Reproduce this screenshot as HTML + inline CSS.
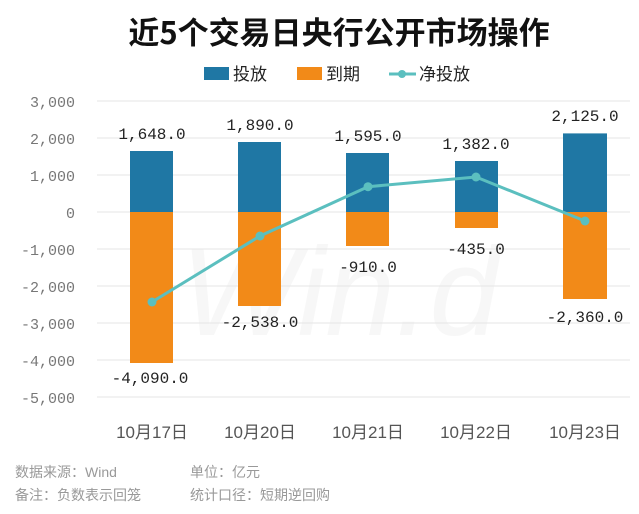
<!DOCTYPE html>
<html><head><meta charset="utf-8"><style>
html,body{margin:0;padding:0;background:#fff;}
svg{display:block;}
</style></head><body>
<svg width="639" height="514" viewBox="0 0 639 514" font-family="Liberation Sans, Noto Sans CJK SC, sans-serif">
<text x="339" y="44" font-size="31" font-weight="bold" text-anchor="middle" fill="#111" font-family="Noto Sans CJK SC, sans-serif">近5个交易日央行公开市场操作</text>
<text x="340" y="335" font-size="125" fill="#f7f7f7" text-anchor="middle" font-style="italic" font-family="Liberation Sans, sans-serif">Win.d</text>
<!-- legend -->
<rect x="204" y="67" width="25" height="13" fill="#1f77a4"/><text x="233" y="80" font-size="17" fill="#222" font-family="Noto Sans CJK SC, sans-serif">投放</text>
<rect x="297" y="67" width="25" height="13" fill="#f28a18"/><text x="326" y="80" font-size="17" fill="#222" font-family="Noto Sans CJK SC, sans-serif">到期</text>
<line x1="389" y1="74" x2="416" y2="74" stroke="#5bbfbf" stroke-width="3"/><circle cx="402" cy="74" r="4" fill="#5bbfbf"/><text x="419" y="80" font-size="17" fill="#222" font-family="Noto Sans CJK SC, sans-serif">净投放</text>
<!-- grid -->
<g stroke="#e6e6e6" stroke-width="1">
<line x1="97" y1="101" x2="630" y2="101"/><line x1="97" y1="138" x2="630" y2="138"/><line x1="97" y1="175" x2="630" y2="175"/><line x1="97" y1="212" x2="630" y2="212"/><line x1="97" y1="249" x2="630" y2="249"/><line x1="97" y1="286" x2="630" y2="286"/><line x1="97" y1="323" x2="630" y2="323"/><line x1="97" y1="360" x2="630" y2="360"/><line x1="97" y1="397" x2="630" y2="397"/>
</g>
<g font-family="Liberation Mono, monospace" font-size="15" fill="#777" text-anchor="end">
<text x="75" y="107">3,000</text><text x="75" y="144">2,000</text><text x="75" y="181">1,000</text><text x="75" y="218">0</text><text x="75" y="255">-1,000</text><text x="75" y="292">-2,000</text><text x="75" y="329">-3,000</text><text x="75" y="366">-4,000</text><text x="75" y="403">-5,000</text>
</g>
<!-- bars -->
<g fill="#1f77a4">
<rect x="130" y="151" width="43" height="61"/><rect x="238" y="142" width="43" height="70"/><rect x="346" y="153" width="43" height="59"/><rect x="455" y="161" width="43" height="51"/><rect x="563" y="133.4" width="44" height="78.6"/>
</g>
<g fill="#f28a18">
<rect x="130" y="212" width="43" height="151"/><rect x="238" y="212" width="43" height="94"/><rect x="346" y="212" width="43" height="34"/><rect x="455" y="212" width="43" height="16"/><rect x="563" y="212" width="44" height="87"/>
</g>
<g font-family="Liberation Mono, monospace" font-size="16" fill="#222" text-anchor="middle">
<text x="152" y="139">1,648.0</text><text x="260" y="130">1,890.0</text><text x="368" y="141">1,595.0</text><text x="476" y="149">1,382.0</text><text x="585" y="121">2,125.0</text>
<text x="150" y="383">-4,090.0</text><text x="260" y="327">-2,538.0</text><text x="368" y="272">-910.0</text><text x="476" y="254">-435.0</text><text x="585" y="322">-2,360.0</text>
</g>
<polyline points="152,302 260,236 368,186.7 476,177 585,221" fill="none" stroke="#5bbfbf" stroke-width="3"/>
<g fill="#5bbfbf"><circle cx="152" cy="302" r="4.5"/><circle cx="260" cy="236" r="4.5"/><circle cx="368" cy="186.7" r="4.5"/><circle cx="476" cy="177" r="4.5"/><circle cx="585" cy="221" r="4.5"/></g>
<g font-size="17" fill="#555" text-anchor="middle" font-family="Liberation Sans, Noto Sans CJK SC, sans-serif">
<text x="152" y="438">10月17日</text><text x="260" y="438">10月20日</text><text x="368" y="438">10月21日</text><text x="476" y="438">10月22日</text><text x="585" y="438">10月23日</text>
</g>
<g font-size="14" fill="#999" font-family="Liberation Sans, Noto Sans CJK SC, sans-serif">
<text x="15" y="477">数据来源：Wind</text><text x="190" y="477">单位：亿元</text>
<text x="15" y="500">备注：负数表示回笼</text><text x="190" y="500">统计口径：短期逆回购</text>
</g>
</svg>
</body></html>
